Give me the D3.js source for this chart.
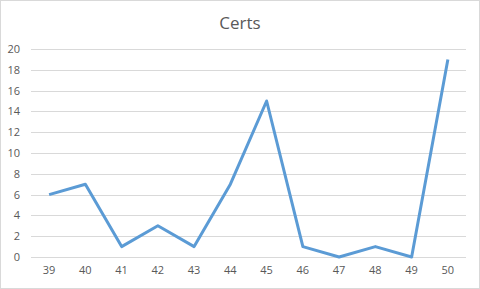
<!DOCTYPE html>
<html><head><meta charset="utf-8">
<script src="https://cdn.jsdelivr.net/npm/d3@7"></script>
<style>body{margin:0;background:#fff}svg{display:block}</style>
</head><body>
<svg id="c" width="480" height="289"></svg>
<script>
const categories = ["39","40","41","42","43","44","45","46","47","48","49","50"];
const values = [6,7,1,3,1,7,15,1,0,1,0,19];
const yTicks = [0,2,4,6,8,10,12,14,16,18,20];
const title = "Certs";

const svg = d3.select("#c");
const W = 480, H = 289;
const m = {left:31, right:14, top:49, bottom:32};
svg.append("rect").attr("x",0.5).attr("y",0.5).attr("width",W-1).attr("height",H-1)
  .attr("fill","#fff").attr("stroke","#d9d9d9");

const x = d3.scaleBand().domain(categories).range([m.left, W-m.right]);
const y = d3.scaleLinear().domain([0,20]).range([H-m.bottom, m.top]);

const font = "'Open Sans', 'Liberation Sans', sans-serif";

svg.append("g").selectAll("line").data(yTicks).join("line")
  .attr("x1",m.left).attr("x2",W-m.right)
  .attr("y1",d=>Math.round(y(d))+0.5).attr("y2",d=>Math.round(y(d))+0.5)
  .attr("stroke","#d9d9d9").attr("stroke-width",1);

const yAxis = svg.append("g").attr("transform",`translate(${m.left},0)`)
  .call(d3.axisLeft(y).tickValues(yTicks).tickSize(0).tickPadding(11));
yAxis.select(".domain").remove();
yAxis.selectAll("text").attr("fill","#595959").style("font-family",font).style("font-size","11px");

const xAxis = svg.append("g").attr("transform",`translate(0,${H-m.bottom})`)
  .call(d3.axisBottom(x).tickSize(0).tickPadding(9));
xAxis.select(".domain").remove();
xAxis.selectAll("text").attr("fill","#595959").style("font-family",font).style("font-size","11px");

svg.append("path").datum(values)
  .attr("fill","none").attr("stroke","#5b9bd5").attr("stroke-width",3)
  .attr("stroke-linejoin","round").attr("stroke-linecap","butt")
  .attr("d", d3.line().x((d,i)=>x(categories[i])+x.bandwidth()/2).y(d=>y(d)));

svg.append("text").attr("x",W/2).attr("y",29).attr("text-anchor","middle")
  .attr("fill","#595959").style("font-family",font).style("font-size","17px").text(title);
</script>
</body></html>
